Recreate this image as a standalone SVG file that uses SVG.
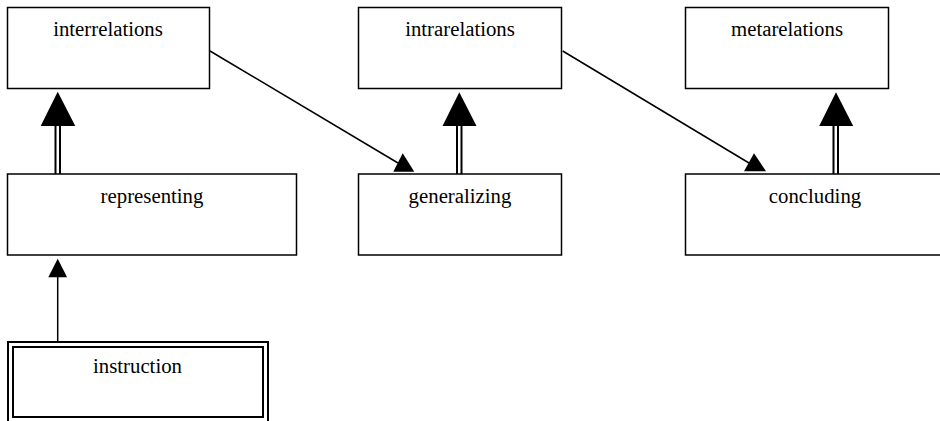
<svg xmlns="http://www.w3.org/2000/svg" width="940" height="421" viewBox="0 0 940 421">
<style>
.box{fill:#fff;stroke:#000;stroke-width:1.5}
.dbl{fill:none;stroke:#000;stroke-width:2}
.lbl{font-family:"Liberation Serif","Times New Roman",serif;font-size:20.8px;fill:#000;text-anchor:middle}
.ln{stroke:#000;stroke-width:1.5;fill:none}
.ln2{stroke:#000;stroke-width:2;fill:none}
.head{fill:#000;stroke:none}
</style>
<rect width="940" height="421" fill="#fff"/>
<g id="interrelations"><rect class="box" x="7.5" y="7.5" width="202" height="81"/><text class="lbl" x="108" y="36">interrelations</text></g>
<g id="intrarelations"><rect class="box" x="358.5" y="7.5" width="203" height="81"/><text class="lbl" x="460" y="36">intrarelations</text></g>
<g id="metarelations"><rect class="box" x="685.5" y="7.5" width="203" height="81"/><text class="lbl" x="787" y="36">metarelations</text></g>
<g id="representing"><rect class="box" x="7.5" y="174" width="289" height="81"/><text class="lbl" x="152" y="203">representing</text></g>
<g id="generalizing"><rect class="box" x="358.5" y="174" width="203" height="81"/><text class="lbl" x="460" y="203">generalizing</text></g>
<g id="concluding"><rect class="box" x="685.5" y="174" width="259" height="81"/><text class="lbl" x="815" y="203">concluding</text></g>
<g id="instruction"><rect class="dbl" x="8" y="342" width="260" height="82"/><rect class="dbl" x="13" y="347" width="250" height="70"/><text class="lbl" x="137.5" y="373">instruction</text></g>
<g id="connectors">
<line class="ln" x1="210" y1="51" x2="398" y2="163"/>
<polygon class="head" points="402.7,153.3 393.3,171.7 414.3,171.7"/>
<line class="ln" x1="562.7" y1="51" x2="749" y2="163"/>
<polygon class="head" points="754,153.3 744,171.2 766,171.2"/>
<line class="ln2" x1="55.5" y1="125" x2="55.5" y2="174"/><line class="ln2" x1="60" y1="125" x2="60" y2="174"/>
<polygon class="head" points="57.7,91.7 40.7,126 75.3,126"/>
<line class="ln2" x1="457" y1="125" x2="457" y2="174"/><line class="ln2" x1="461.5" y1="125" x2="461.5" y2="174"/>
<polygon class="head" points="459.3,92.3 442.5,126 476.5,126"/>
<line class="ln2" x1="833.5" y1="125" x2="833.5" y2="174"/><line class="ln2" x1="838" y1="125" x2="838" y2="174"/>
<polygon class="head" points="836,92.3 819.2,126 853.2,126"/>
<line class="ln" x1="57.7" y1="276" x2="57.7" y2="341"/>
<polygon class="head" points="57.7,258.7 48.3,277.3 67.1,277.3"/>
</g>
</svg>
